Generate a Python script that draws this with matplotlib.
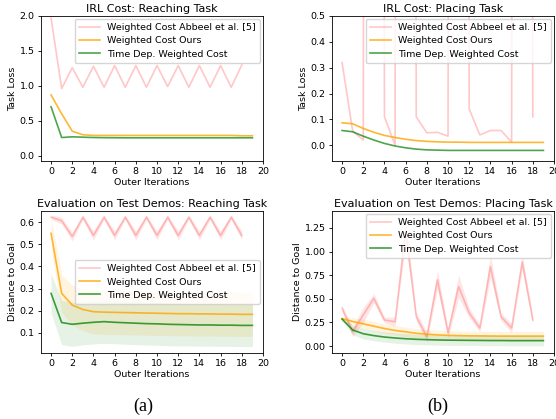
import matplotlib
matplotlib.use("Agg")
import matplotlib.pyplot as plt
import numpy as np

# x axis: outer iterations
iters = np.arange(20)
iters_abbeel = np.arange(19)

# IRL cost, reaching task
reach_abbeel = [1.97, 0.96, 1.26, 0.98, 1.28, 0.98, 1.29, 0.98, 1.29, 0.98,
                1.29, 0.99, 1.29, 0.98, 1.29, 0.98, 1.29, 0.98, 1.30]
reach_ours = [0.87, 0.60, 0.35, 0.30, 0.29, 0.29, 0.29, 0.29, 0.29, 0.29,
              0.29, 0.29, 0.29, 0.29, 0.29, 0.29, 0.29, 0.29, 0.285, 0.285]
reach_timedep = [0.70, 0.26, 0.27, 0.265, 0.26, 0.258, 0.257, 0.256, 0.256, 0.256,
                 0.256, 0.256, 0.256, 0.256, 0.256, 0.256, 0.256, 0.256, 0.256, 0.256]

# IRL cost, placing task (spikes go far above the axis)
place_abbeel = [0.32, 0.055, 0.02, 25.0, 0.11, 0.0, 25.0, 0.11, 0.048, 0.05,
                0.035, 25.0, 0.14, 0.04, 0.057, 0.057, 0.012, 25.0, 0.11]
place_ours = [0.087, 0.083, 0.065, 0.05, 0.038, 0.03, 0.023, 0.018, 0.015, 0.013,
              0.012, 0.012, 0.011, 0.011, 0.011, 0.011, 0.011, 0.011, 0.011, 0.011]
place_timedep = [0.057, 0.052, 0.035, 0.02, 0.007, -0.003, -0.01, -0.015, -0.018, -0.019,
                 -0.02, -0.02, -0.02, -0.02, -0.02, -0.02, -0.02, -0.02, -0.02, -0.02]

# evaluation on test demos, reaching task (mean, std)
ev_reach_abbeel = [0.623, 0.607, 0.535, 0.623, 0.54, 0.623, 0.54, 0.623, 0.54, 0.623,
                   0.54, 0.623, 0.54, 0.623, 0.54, 0.623, 0.54, 0.623, 0.54]
ev_reach_abbeel_sd = [0.01, 0.015, 0.02, 0.01, 0.02, 0.01, 0.02, 0.01, 0.02, 0.01,
                      0.02, 0.01, 0.02, 0.01, 0.02, 0.01, 0.02, 0.01, 0.02]
ev_reach_ours = [0.55, 0.278, 0.225, 0.205, 0.195, 0.193, 0.192, 0.191, 0.19, 0.189,
                 0.188, 0.187, 0.186, 0.186, 0.185, 0.185, 0.184, 0.184, 0.183, 0.183]
ev_reach_ours_sd = [0.07, 0.085, 0.09, 0.095, 0.1, 0.1, 0.1, 0.1, 0.1, 0.1,
                    0.1, 0.1, 0.1, 0.1, 0.1, 0.1, 0.1, 0.1, 0.1, 0.1]
ev_reach_timedep = [0.278, 0.146, 0.138, 0.143, 0.147, 0.15, 0.147, 0.145, 0.143, 0.141,
                    0.14, 0.138, 0.137, 0.136, 0.135, 0.135, 0.134, 0.134, 0.133, 0.133]
ev_reach_timedep_sd = [0.088, 0.1, 0.1, 0.098, 0.098, 0.098, 0.097, 0.097, 0.097, 0.097,
                       0.097, 0.097, 0.097, 0.096, 0.096, 0.096, 0.096, 0.096, 0.096, 0.096]

# evaluation on test demos, placing task (mean, std)
ev_place_abbeel = [0.40, 0.15, 0.33, 0.505, 0.275, 0.257, 1.22, 0.31, 0.10, 0.70,
                   0.14, 0.63, 0.35, 0.19, 0.84, 0.31, 0.19, 0.89, 0.275]
ev_place_abbeel_sd = [0.03, 0.05, 0.08, 0.05, 0.03, 0.05, 0.13, 0.05, 0.05, 0.1,
                      0.05, 0.12, 0.05, 0.04, 0.12, 0.04, 0.05, 0.08, 0.04]
ev_place_ours = [0.29, 0.26, 0.235, 0.21, 0.185, 0.165, 0.15, 0.135, 0.125, 0.118,
                 0.113, 0.11, 0.108, 0.107, 0.106, 0.105, 0.105, 0.105, 0.105, 0.105]
ev_place_ours_sd = [0.02, 0.04, 0.05, 0.05, 0.05, 0.05, 0.05, 0.05, 0.05, 0.05,
                    0.05, 0.05, 0.05, 0.05, 0.05, 0.05, 0.05, 0.05, 0.05, 0.05]
ev_place_timedep = [0.285, 0.17, 0.13, 0.11, 0.095, 0.085, 0.077, 0.071, 0.067, 0.064,
                    0.062, 0.061, 0.06, 0.059, 0.058, 0.058, 0.057, 0.057, 0.057, 0.057]
ev_place_timedep_sd = [0.02, 0.05, 0.055, 0.055, 0.055, 0.055, 0.055, 0.055, 0.055, 0.055,
                       0.055, 0.055, 0.055, 0.055, 0.055, 0.055, 0.055, 0.055, 0.055, 0.055]

labels = ['Weighted Cost Abbeel et al. [5]', 'Weighted Cost Ours', 'Time Dep. Weighted Cost']
colors = ['red', 'orange', 'green']

FS_TICK = 6.8
FS_TITLE = 8.0

fig = plt.figure(figsize=(5.56, 4.19), dpi=100)
w, h = 222 / 556, 145 / 419
ax_rc = fig.add_axes([41 / 556, (419 - 161) / 419, w, h])
ax_pc = fig.add_axes([332 / 556, (419 - 161) / 419, w, h])
h2 = 142 / 419
ax_re = fig.add_axes([41 / 556, (419 - 353) / 419, w, h2])
ax_pe = fig.add_axes([332 / 556, (419 - 353) / 419, w, h2])


def cost_panel(ax, a, o, t, title, ylim, yticks):
    ax.plot(iters_abbeel, a, color=colors[0], alpha=0.22, lw=1.2, label=labels[0])
    ax.plot(iters, o, color=colors[1], alpha=0.8, lw=1.2, label=labels[1])
    ax.plot(iters, t, color=colors[2], alpha=0.7, lw=1.2, label=labels[2])
    ax.set_ylim(*ylim)
    ax.set_yticks(yticks)
    ax.set_ylabel('Task Loss', fontsize=FS_TICK)
    finish(ax, title)


def eval_panel(ax, series, title, ylim, yticks, yfmt, legloc):
    alphas = [(0.22, 0.1), (0.8, 0.12), (0.75, 0.1)]
    for i, (x, m, s) in enumerate(series):
        m, s = np.array(m), np.array(s)
        ax.plot(x, m, color=colors[i], alpha=alphas[i][0], lw=1.2, label=labels[i])
        ax.fill_between(x, m - s, m + s, color=colors[i], alpha=alphas[i][1], lw=0)
    ax.set_ylim(*ylim)
    ax.set_yticks(yticks)
    ax.set_yticklabels([yfmt % v for v in yticks])
    ax.set_ylabel('Distance to Goal', fontsize=FS_TICK)
    finish(ax, title, legloc)


def finish(ax, title, legloc='upper right'):
    ax.set_xlim(-0.95, 20)
    ax.set_xticks(range(0, 21, 2))
    ax.set_xlabel('Outer Iterations', fontsize=FS_TICK, labelpad=1)
    ax.yaxis.labelpad = 2
    ax.set_title(title, fontsize=FS_TITLE, pad=3)
    ax.tick_params(labelsize=FS_TICK, length=2.5, width=0.6, pad=2)
    for sp in ax.spines.values():
        sp.set_linewidth(0.6)
    ax.legend(loc=legloc, fontsize=FS_TICK, handlelength=2.2, borderpad=0.45,
              labelspacing=0.45, handletextpad=0.8, borderaxespad=0.3)


cost_panel(ax_rc, reach_abbeel, reach_ours, reach_timedep, 'IRL Cost: Reaching Task',
           (-0.076, 2.0), [0.0, 0.5, 1.0, 1.5, 2.0])
cost_panel(ax_pc, place_abbeel, place_ours, place_timedep, 'IRL Cost: Placing Task',
           (-0.061, 0.5), [0.0, 0.1, 0.2, 0.3, 0.4, 0.5])

eval_panel(ax_re, [(iters_abbeel, ev_reach_abbeel, ev_reach_abbeel_sd),
                   (iters, ev_reach_ours, ev_reach_ours_sd),
                   (iters, ev_reach_timedep, ev_reach_timedep_sd)],
           'Evaluation on Test Demos: Reaching Task', (0.008, 0.651),
           [0.1, 0.2, 0.3, 0.4, 0.5, 0.6], '%.1f', 'center right')
eval_panel(ax_pe, [(iters_abbeel, ev_place_abbeel, ev_place_abbeel_sd),
                   (iters, ev_place_ours, ev_place_ours_sd),
                   (iters, ev_place_timedep, ev_place_timedep_sd)],
           'Evaluation on Test Demos: Placing Task', (-0.074, 1.43),
           [0.0, 0.25, 0.5, 0.75, 1.0, 1.25], '%.2f', 'upper right')

fig.text(143 / 556, 1 - 406 / 419, '(a)', ha='center', va='center',
         fontsize=13, family='Liberation Serif')
fig.text(438 / 556, 1 - 406 / 419, '(b)', ha='center', va='center',
         fontsize=13, family='Liberation Serif')

fig.savefig('out.png', dpi=100)
